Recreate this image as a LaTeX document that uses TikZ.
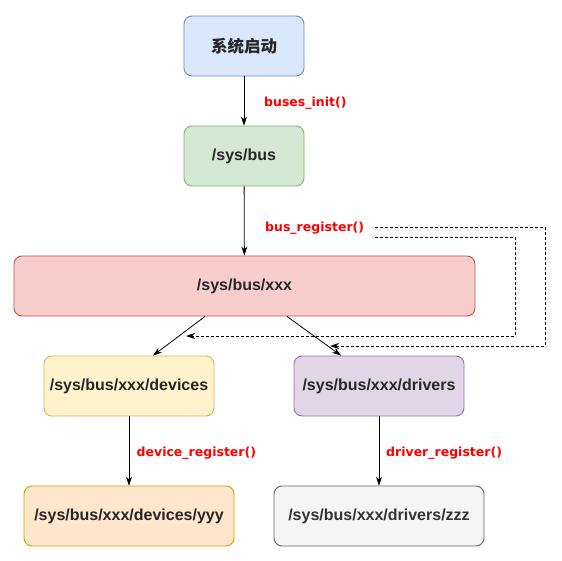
\documentclass[tikz,border=0pt]{standalone}
\usepackage{fontspec}
\setmainfont{Liberation Sans}
\newfontfamily\cjk{Noto Sans CJK SC}
\newfontfamily\lblfont{DejaVu Sans}
\usetikzlibrary{arrows.meta}
\definecolor{bluef}{HTML}{DAE8FC}\definecolor{blued}{HTML}{6C8EBF}
\definecolor{greenf}{HTML}{D5E8D4}\definecolor{greend}{HTML}{82B366}
\definecolor{redf}{HTML}{F8CECC}\definecolor{redd}{HTML}{B85450}
\definecolor{yelf}{HTML}{FFF2CC}\definecolor{yeld}{HTML}{D6B656}
\definecolor{purf}{HTML}{E1D5E7}\definecolor{purd}{HTML}{9673A6}
\definecolor{oraf}{HTML}{FFE6CC}\definecolor{orad}{HTML}{D79B00}
\definecolor{grayf}{HTML}{F5F5F5}\definecolor{grayd}{HTML}{666666}
\definecolor{graytxt}{HTML}{333333}
\definecolor{lblred}{HTML}{FF0000}
\tikzset{
  box/.style={draw, rounded corners=8pt, line width=0.9pt, inner sep=0pt,
    font=\fontsize{16}{19}\selectfont\bfseries, text=black!85},
  lbl/.style={font=\lblfont\fontsize{12.5}{15}\selectfont\bfseries, text=lblred, inner sep=0pt, anchor=west},
  arr/.style={-{Stealth[length=9pt,width=6pt]}, line width=0.8pt},
  darr/.style={-{Stealth[length=9pt,width=6pt]}, line width=0.8pt, dash pattern=on 3pt off 2pt},
}
\begin{document}
\begin{tikzpicture}[x=1pt,y=-1pt]
\useasboundingbox (0,0) rectangle (562,561);
\fill[white] (0,0) rectangle (562,561);
\node[box, fill=bluef, draw=blued, minimum width=120pt, minimum height=60pt] (start) at (244,46) {\cjk\fontsize{16.5}{19}\selectfont\bfseries 系统启动};
\node[box, fill=greenf, draw=greend, minimum width=120pt, minimum height=60pt] (bus) at (244,156) {/sys/bus};
\node[box, fill=redf, draw=redd, minimum width=461pt, minimum height=60pt] (xxx) at (244.5,286) {/sys/bus/xxx};
\node[box, fill=yelf, draw=yeld, minimum width=170pt, minimum height=60pt] (dev) at (129,386) {/sys/bus/xxx/devices};
\node[box, fill=purf, draw=purd, minimum width=170pt, minimum height=60pt] (drv) at (379,386) {/sys/bus/xxx/drivers};
\node[box, fill=oraf, draw=orad, minimum width=210pt, minimum height=60pt] (yyy) at (129,516) {/sys/bus/xxx/devices/yyy};
\node[box, fill=grayf, draw=grayd, text=graytxt, minimum width=210pt, minimum height=60pt] (zzz) at (379,516) {/sys/bus/xxx/drivers/zzz};

\draw[arr] (start) -- (bus);
\draw[arr] (bus) -- (xxx);
\draw[arr] ([xshift=-39.5pt]xxx.south) -- ([xshift=24pt]dev.north);
\draw[arr] ([xshift=42.5pt]xxx.south) -- ([xshift=-38pt]drv.north);
\draw[arr] (dev) -- (yyy);
\draw[arr] (drv) -- (zzz);

\node[lbl] (l1) at (264,103.5) {buses\_init()};
\node[lbl] (l2) at (265,228.5) {bus\_register()};
\node[lbl] (l3) at (136.5,453.5) {device\_register()};
\node[lbl] (l4) at (386,453.5) {driver\_register()};

\coordinate (o1) at (375,227);
\coordinate (o2) at (545,227);
\coordinate (o3) at (545,346);
\coordinate (o4) at (330,346);
\coordinate (i1) at (375,237);
\coordinate (i2) at (515,237);
\coordinate (i3) at (515,336);
\coordinate (i4) at (186,336);
\draw[darr] (o1) -- (o2) -- (o3) -- (o4);
\draw[darr] (i1) -- (i2) -- (i3) -- (i4);
\end{tikzpicture}
\end{document}
